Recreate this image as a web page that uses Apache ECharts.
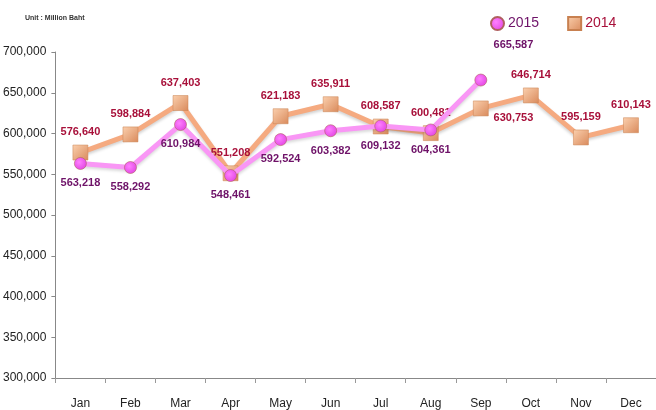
<!DOCTYPE html>
<html><head><meta charset="utf-8">
<script src="https://cdn.jsdelivr.net/npm/echarts@6/dist/echarts.min.js"></script>
<style>html,body{margin:0;padding:0;background:#fff}#c{width:656px;height:410px}</style>
</head><body><div id="c"></div>
<script>
const months = ['Jan','Feb','Mar','Apr','May','Jun','Jul','Aug','Sep','Oct','Nov','Dec'];
const values2014 = [576640, 598884, 637403, 551208, 621183, 635911, 608587, 600481, 630753, 646714, 595159, 610143];
const values2015 = [563218, 558292, 610984, 548461, 592524, 603382, 609132, 604361, 665587];
const yTicks = [300000, 350000, 400000, 450000, 500000, 550000, 600000, 650000, 700000];

const labelFont = "'Liberation Sans','Roboto',sans-serif";
const fmt = v => v.toLocaleString('en-US');

const d2014 = values2014.map((v, i) => {
  const o = {value: v};
  if (months[i] === 'Sep') o.label = {position: 'right', offset: [-2, 10]};
  return o;
});
const d2015 = values2015.map((v, i) => {
  const o = {value: v};
  if (months[i] === 'Sep') o.label = {position: [19, -34], align: 'left', verticalAlign: 'top'};
  return o;
});

const chart = echarts.init(document.getElementById('c'));
chart.setOption({
  animation: false,
  grid: {left: 51, top: 52, width: 608, bottom: 30},
  graphic: [{type: 'text', left: 25, top: 15, style: {text: 'Unit : Million Baht', font: "bold 7px 'Liberation Sans', sans-serif", fill: '#333'}}],
  legend: {
    left: 485, top: 11, itemGap: 28, itemWidth: 13, itemHeight: 13,
    textStyle: {fontSize: 14, fontFamily: labelFont, padding: [0,0,0,-1]},
    data: [
      {name: '2015', icon: 'circle', textStyle: {color: '#6e1268'}},
      {name: '2014', icon: 'rect', textStyle: {color: '#a8103a'}}
    ]
  },
  xAxis: {
    type: 'category', data: months, boundaryGap: true,
    axisLine: {lineStyle: {color: '#888', width: 1}},
    axisTick: {show: true, length: 5, lineStyle: {color: '#999'}},
    axisLabel: {color: '#222', fontSize: 12, margin: 20, fontFamily: labelFont}
  },
  yAxis: {
    type: 'value', min: yTicks[0], max: yTicks[yTicks.length-1], interval: 50000,
    axisLine: {show: true, lineStyle: {color: '#888'}},
    axisTick: {show: true, length: 4, lineStyle: {color: '#888'}},
    splitLine: {show: false},
    axisLabel: {color: '#222', fontSize: 12, margin: 9, formatter: v => fmt(v)}
  },
  series: [
    {
      name: '2014', type: 'line', data: d2014, z: 2,
      symbol: 'rect', symbolSize: 15,
      lineStyle: {color: '#f5aa80', width: 5, shadowColor: 'rgba(0,0,0,0.18)', shadowBlur: 3, shadowOffsetY: 2},
      itemStyle: {color: new echarts.graphic.LinearGradient(0,0,1,1,[{offset:0,color:'#fbd0ae'},{offset:1,color:'#d98a5c'}]), borderColor: '#c88050', borderWidth: 0.5},
      label: {show: true, position: 'top', distance: 7, formatter: p => fmt(p.value), color: '#a8103a', fontWeight: 'bold', fontSize: 11, fontFamily: labelFont}
    },
    {
      name: '2015', type: 'line', data: d2015, z: 3,
      symbol: 'circle', symbolSize: 12,
      lineStyle: {color: '#f996f5', width: 5, shadowColor: 'rgba(0,0,0,0.15)', shadowBlur: 3, shadowOffsetY: 2},
      itemStyle: {color: new echarts.graphic.RadialGradient(0.4,0.4,0.7,[{offset:0,color:'#ff80ff'},{offset:1,color:'#e040e0'}]), borderColor: '#b06060', borderWidth: 0.6},
      label: {show: true, position: 'bottom', distance: 8, formatter: p => fmt(p.value), color: '#6e1268', fontWeight: 'bold', fontSize: 11, fontFamily: labelFont}
    }
  ]
});
</script></body></html>
